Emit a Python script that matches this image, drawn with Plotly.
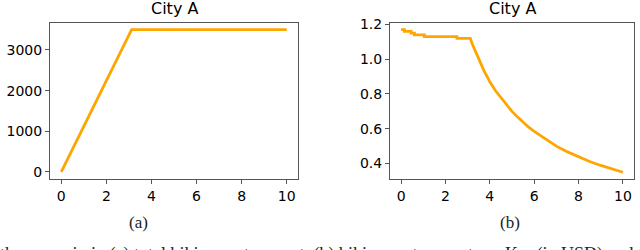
import plotly.graph_objects as go

# (a) total biking system cost
total_x = [0, 2.5, 2.55, 3.12, 10]
total_y = [0, 2780, 2830, 3500, 3500]

# (b) biking system cost per Km (USD)
per_km_x = [0, 0.15, 0.15, 0.45, 0.45, 0.6, 0.6, 1.05, 1.05, 2.52, 2.52, 3.12,
            3.2, 3.3, 3.4, 3.5, 3.6, 3.75, 3.9, 4.0, 4.25, 4.5, 4.75, 5.0, 5.25, 5.5,
            5.75, 6.0, 6.5, 7.0, 7.5, 8.0, 8.5, 9.0, 9.5, 10.0]
per_km_y = [1.17, 1.17, 1.16, 1.16, 1.15, 1.15, 1.14, 1.14, 1.13, 1.13, 1.12, 1.12,
            1.09, 1.06, 1.03, 1.0, 0.97, 0.93, 0.895, 0.87, 0.82, 0.778, 0.737, 0.70,
            0.667, 0.636, 0.609, 0.585, 0.54, 0.50, 0.467, 0.438, 0.412, 0.389, 0.369, 0.35]

x_ticks = [0, 2, 4, 6, 8, 10]
left_y_ticks = [0, 1000, 2000, 3000]
right_y_ticks = [0.4, 0.6, 0.8, 1.0, 1.2]
right_y_labels = ["0.4", "0.6", "0.8", "1.0", "1.2"]
titles = ["City A", "City A"]
captions = ["(a)", "(b)"]
bottom_text = "the scenario in (a) total biking system cost, (b) biking system cost per Km (in USD) and t"

W, H = 640, 250
fig = go.Figure()
orange = "#FFA500"
fig.add_trace(go.Scatter(x=total_x, y=total_y, mode="lines",
                         line=dict(color=orange, width=2.8), xaxis="x", yaxis="y", showlegend=False))
fig.add_trace(go.Scatter(x=per_km_x, y=per_km_y, mode="lines",
                         line=dict(color=orange, width=2.8), xaxis="x2", yaxis="y2", showlegend=False))

ydom = [1 - 178 / H, 1 - 17 / H]
axis_common = dict(showline=True, mirror=True, linecolor="#555", linewidth=1,
                   ticks="outside", ticklen=4, tickcolor="#555", showgrid=False, zeroline=False,
                   tickfont=dict(family="DejaVu Sans", size=14, color="black"))

fig.update_layout(
    width=W, height=H, margin=dict(l=0, r=0, t=0, b=0),
    paper_bgcolor="white", plot_bgcolor="white",
    xaxis=dict(domain=[50 / W, 298 / W], range=[-0.5, 10.5], tickvals=x_ticks, anchor="y", **axis_common),
    yaxis=dict(domain=ydom, range=[-175, 3675], tickvals=left_y_ticks, anchor="x", **axis_common),
    xaxis2=dict(domain=[390 / W, 634 / W], range=[-0.5, 10.5], tickvals=x_ticks, anchor="y2", **axis_common),
    yaxis2=dict(domain=ydom, range=[0.311, 1.211], tickvals=right_y_ticks, ticktext=right_y_labels,
                anchor="x2", **axis_common),
)

centers = [(50 + 298) / 2 / W, (390 + 634) / 2 / W]
cap_x = [138 / W, 510 / W]
for c, t, cx, cap in zip(centers, titles, cap_x, captions):
    fig.add_annotation(x=c, y=1 - 14 / H, xref="paper", yref="paper", text=t, showarrow=False,
                       xanchor="center", yanchor="bottom",
                       font=dict(family="DejaVu Sans", size=16, color="black"))
    fig.add_annotation(x=cx, y=1 - 223 / H, xref="paper", yref="paper",
                       text=cap, showarrow=False, xanchor="center", yanchor="middle",
                       font=dict(family="Liberation Serif", size=17, color="#222"))

fig.add_annotation(x=-2 / W, y=1 - 243 / H, xref="paper", yref="paper", text=bottom_text, showarrow=False,
                   xanchor="left", yanchor="top", font=dict(family="Liberation Serif", size=18, color="#222"))

fig.write_html("out.html", config={"displayModeBar": False},
               post_script="document.body.style.margin='0';document.body.style.padding='0';")
